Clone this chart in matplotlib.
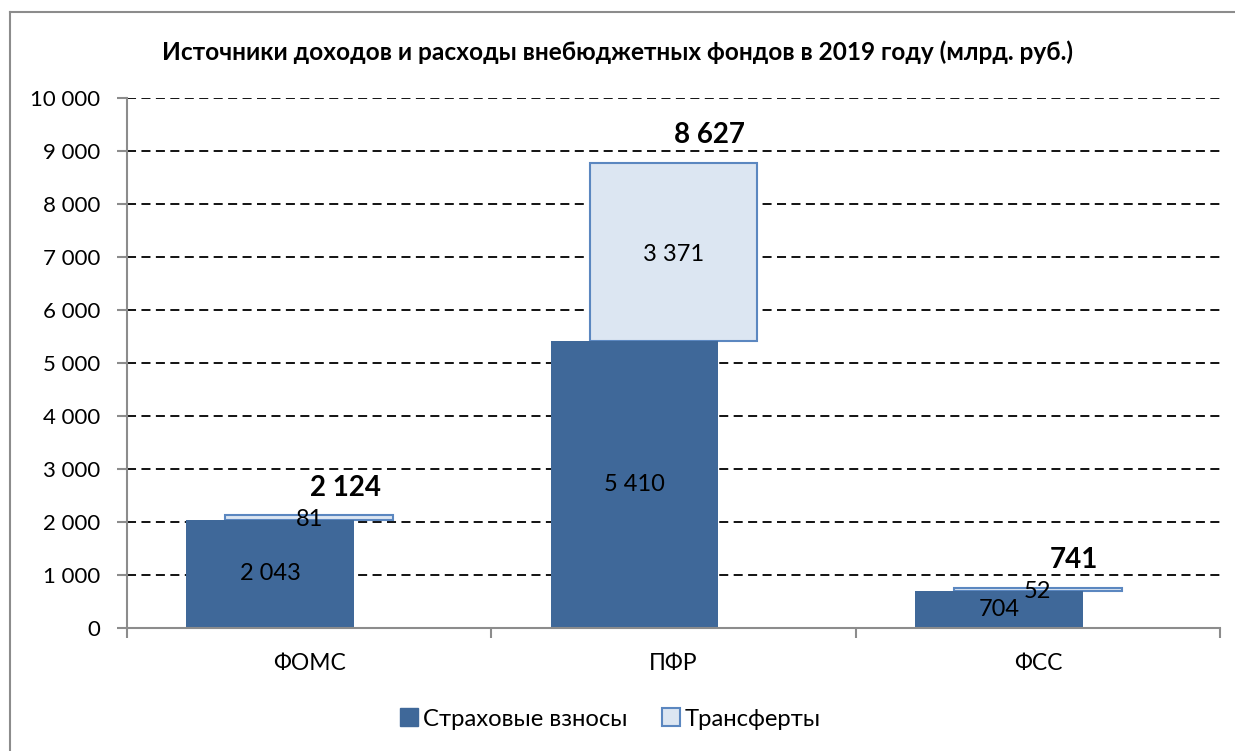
import numpy as np
import matplotlib.pyplot as plt
from matplotlib.lines import Line2D

funds = ['ФОМС', 'ПФР', 'ФСС']
contributions = [2043, 5410, 704]
transfers = [81, 3371, 52]
totals = [2124, 8627, 741]
yticks = list(range(0, 10001, 1000))

dark = '#3F6899'
light_fill = '#DCE6F2'
light_edge = '#5B87C0'

plt.rcParams['font.family'] = ['Lato', 'DejaVu Sans']

fig = plt.figure(figsize=(12.35, 7.51), dpi=100)
ax = fig.add_axes([127 / 1235, 1 - 628 / 751, (1220 - 127) / 1235, (628 - 98) / 751])

x = np.arange(len(funds))
w = 0.46
off = 0.107

ax.bar(x, transfers, w, bottom=contributions, color=light_fill,
       edgecolor=light_edge, linewidth=1.5, zorder=3, label='Трансферты')
ax.bar(x - off, contributions, w, color=dark, edgecolor=dark, linewidth=0,
       zorder=4, label='Страховые взносы')

for i in range(len(funds)):
    ax.text(x[i] - off, contributions[i] / 2, f'{contributions[i]:,}'.replace(',', ' '),
            ha='center', va='center', fontsize=17, zorder=6)
    ax.text(x[i], contributions[i] + transfers[i] / 2 - 40, f'{transfers[i]:,}'.replace(',', ' '),
            ha='center', va='center', fontsize=17, zorder=6)
    ax.annotate(f'{totals[i]:,}'.replace(',', ' '),
                (x[i] + 0.1, contributions[i] + transfers[i]),
                xytext=(0, 20), textcoords='offset points',
                ha='center', va='center', fontsize=20, fontweight='bold')

ax.set_xlim(-0.5, 2.5)
ax.set_ylim(0, 10000)
ax.set_yticks(yticks)
ax.set_yticklabels([f'{v:,}'.replace(',', ' ') for v in yticks], fontsize=16)
ax.set_xticks(x)
ax.set_xticklabels(funds, fontsize=16.5)
ax.tick_params(axis='x', length=0, pad=18)
ax.set_xticks([-0.5, 0.5, 1.5, 2.5], minor=True)
ax.tick_params(axis='x', which='minor', length=7, color='#8C8C8C', width=1.5)
ax.tick_params(axis='y', length=7, color='#8C8C8C', width=1.5, pad=12)

ax.yaxis.grid(True, color='black', linestyle=(0, (5, 3)), linewidth=1.3, zorder=0)
ax.set_axisbelow(True)
for s in ['top', 'right']:
    ax.spines[s].set_visible(False)
for s in ['left', 'bottom']:
    ax.spines[s].set_color('#8C8C8C')
    ax.spines[s].set_linewidth(1.5)
ax.spines['bottom'].set_zorder(5)

fig.text(0.5, 1 - 52 / 751, 'Источники доходов и расходы внебюджетных фондов в 2019 году (млрд. руб.)',
         ha='center', va='center', fontsize=17.6, fontweight='bold')

handles = [Line2D([], [], marker='s', linestyle='none', markersize=13,
                  markerfacecolor=dark, markeredgecolor=dark),
           Line2D([], [], marker='s', linestyle='none', markersize=13,
                  markerfacecolor=light_fill, markeredgecolor=light_edge, markeredgewidth=1.5)]
fig.legend(handles, ['Страховые взносы', 'Трансферты'], loc='center',
           bbox_to_anchor=(609 / 1235, 1 - 719 / 751), ncol=2, frameon=False,
           fontsize=17.2, handletextpad=0.1, columnspacing=1.3, handlelength=1)

# chart border
fig.add_artist(Line2D([10 / 1235, 10 / 1235], [0, 1 - 12 / 751], color='#8C8C8C',
                      linewidth=1.5, transform=fig.transFigure))
fig.add_artist(Line2D([10 / 1235, 1], [1 - 12 / 751, 1 - 12 / 751], color='#8C8C8C',
                      linewidth=1.5, transform=fig.transFigure))

fig.savefig('out.png', dpi=100)
